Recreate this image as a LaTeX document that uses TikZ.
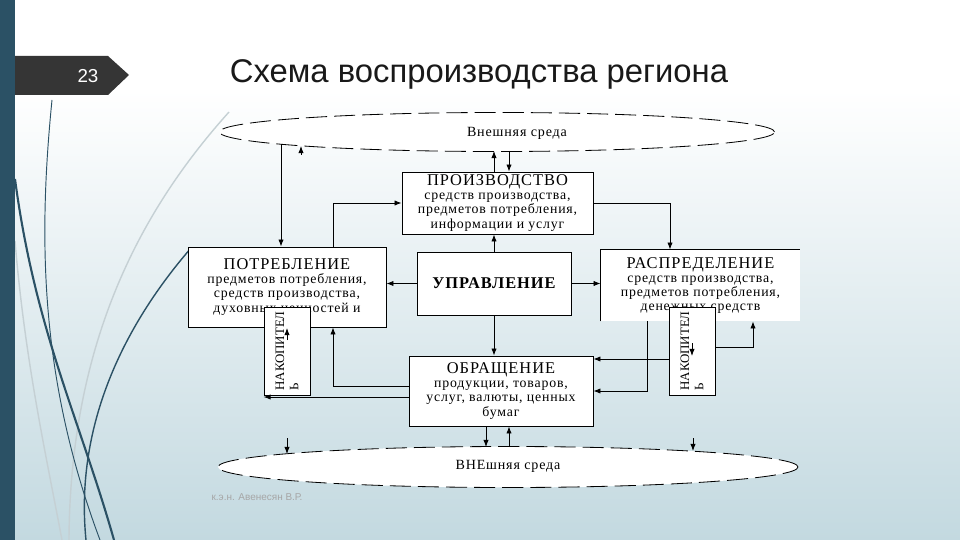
\documentclass[tikz,border=0pt]{standalone}
\usepackage{fontspec}
\setmainfont{Liberation Serif}
\newfontfamily\slidefont{Liberation Sans}
\newfontfamily\boxfont[LetterSpace=6]{Liberation Serif}
\usetikzlibrary{arrows.meta,shapes.geometric,positioning}

\newcommand{\pxu}{0.03cm}
\newcommand{\headsize}{\fontsize{14}{15}\selectfont}

\definecolor{stripblue}{HTML}{2B5165}
\definecolor{bgbottom}{HTML}{C3D9E0}
\definecolor{numgray}{HTML}{353535}
\definecolor{swirl}{HTML}{C5D0D4}

\tikzset{
  arr/.style={-{Latex[length=6pt,width=4.5pt]},line width=0.7pt},
  unit/.style={draw,fill=white,line width=0.7pt,align=center,inner sep=1pt,
    font=\boxfont\fontsize{11.8}{12}\selectfont},
  acc/.style={unit,rotate=90,align=left,minimum width=88*\pxu,minimum height=46*\pxu,
    font=\rmfamily\fontsize{11}{12}\selectfont},
  envell/.style={ellipse,draw,fill=white,line width=0.7pt,dash pattern=on 18pt off 6pt},
  envtext/.style={font=\boxfont\fontsize{12}{13}\selectfont},
  swirldark/.style={stripblue,line width=1.2pt},
  swirllight/.style={swirl,line width=1.2pt}
}

\begin{document}
\begin{tikzpicture}[x=0.03cm,y=-0.03cm]
\useasboundingbox (0,0) rectangle (960,540);
% background
\fill[white] (0,0) rectangle (960,90);
\shade[top color=white,bottom color=bgbottom] (0,90) rectangle (960,540);
\draw[swirllight] (229,112) .. controls (150,200) and (70,330) .. (69,540);
\draw[swirllight] (15,241) .. controls (25,360) and (45,450) .. (62,540);
\draw[swirldark,line width=0.8pt] (52,100) .. controls (38,240) and (40,380) .. (100,540);
\draw[swirldark,line width=1.8pt] (15,179) .. controls (35,330) and (80,420) .. (114,540);
\draw[swirldark] (191,248) .. controls (120,330) and (75,430) .. (86,540);
\fill[stripblue] (0,0) rectangle (15,540);
\fill[numgray] (15,56) -- (108,56) -- (129,75) -- (108,95) -- (15,95) -- cycle;
\node[text=white,font=\slidefont\fontsize{16}{16}\selectfont] (num) at (88,76) {23};
\node[font=\slidefont\fontsize{28}{30}\selectfont,text=black!90] (title) at (479,74) {Схема воспроизводства региона};

% external environment
\node[envell,minimum width=555*\pxu,minimum height=39*\pxu] (topenv) at (497,132) {};
\node[envtext] (toptext) at (517,133) {Внешняя среда};
\node[envell,minimum width=580*\pxu,minimum height=41*\pxu] (botenv) at (508,467) {};
\node[envtext] (bottext) at (508,466) {ВНЕшняя среда};
\coordinate (envA) at (281,144);
\coordinate (envB) at (301,146);
\coordinate (envC) at (494,151);
\coordinate (envD) at (509,151);
\coordinate (envE) at (486,447);
\coordinate (envF) at (509,447);
\coordinate (envG) at (287,454);
\coordinate (envH) at (693,451);

% units
\node[unit,minimum width=191*\pxu,minimum height=62*\pxu] (prod) at (497.5,203)
  {{\headsize ПРОИЗВОДСТВО}\\средств производства,\\предметов потребления,\\информации и услуг};
\node[unit,minimum width=198*\pxu,minimum height=80*\pxu] (cons) at (287,287)
  {{\headsize ПОТРЕБЛЕНИЕ}\\предметов потребления,\\средств производства,\\духовных ценностей и};
\node[unit,draw=none,minimum width=199*\pxu,minimum height=71*\pxu] (dist) at (700.5,285.5)
  {{\headsize РАСПРЕДЕЛЕНИЕ}\\средств производства,\\предметов потребления,\\денежных средств};
\draw[line width=0.7pt] (dist.south west) |- (dist.north east);
\node[unit,minimum width=154*\pxu,minimum height=63*\pxu] (mgmt) at (494,283.5)
  {\raisebox{-8pt}{\headsize\bfseries УПРАВЛЕНИЕ}};
\node[unit,minimum width=184*\pxu,minimum height=70*\pxu] (circ) at (501,391)
  {{\headsize ОБРАЩЕНИЕ}\\продукции, товаров,\\услуг, валюты, ценных\\бумаг};
\node[acc] (accL) at (287,351) {НАКОПИТЕЛ\\Ь};
\node[acc] (accR) at (692,351) {НАКОПИТЕЛ\\Ь};

% flows
\draw[arr] (envA) -- (envA |- cons.north);
\draw[arr] (envB |- 0,155) -- (envB);
\draw[arr] (envC |- prod.north) -- (envC);
\draw[arr] (envD) -- (envD |- prod.north);
\draw[arr] ([xshift=46*\pxu]cons.north) |- (prod.west);
\draw[arr] (prod.east) -| ([xshift=-30.5*\pxu]dist.north);
\draw[arr] (mgmt.north) -- (mgmt.north |- prod.south);
\draw[arr] (mgmt.west) -- (mgmt.west -| cons.east);
\draw[arr] (mgmt.east) -- (mgmt.east -| dist.west);
\draw[arr] (mgmt.south) -- (mgmt.south |- circ.north);
\draw[arr] ([yshift=5*\pxu]circ.west) -| ([xshift=46*\pxu]cons.south);
\draw[arr] ([yshift=-6*\pxu]circ.west) -- ([yshift=-6*\pxu]circ.west -| accL.north);
\draw[arr] ([yshift=11*\pxu]accL.center) -- ([yshift=23*\pxu]accL.center);
\draw[arr] ([xshift=-53.5*\pxu]dist.south) |- (circ.east);
\draw[arr] ([yshift=-8*\pxu]accR.north) -- ([yshift=-8*\pxu]accR.north -| circ.east);
\draw[arr] ([yshift=4*\pxu]accR.south) -| ([xshift=52.5*\pxu]dist.south);
\draw[arr] ([yshift=8*\pxu]accR.center) -- ([yshift=-5*\pxu]accR.center);
\draw[arr] (circ.south -| envE) -- (envE);
\draw[arr] (envF) -- (envF |- circ.south);
\draw[arr] (envG |- 0,438) -- (envG);
\draw[arr] (envH |- 0,438) -- (envH);

\node[font=\slidefont\fontsize{8.5}{9}\selectfont,text=black!35] (author) at (257,497) {к.э.н. Авенесян В.Р.};
\end{tikzpicture}
\end{document}
